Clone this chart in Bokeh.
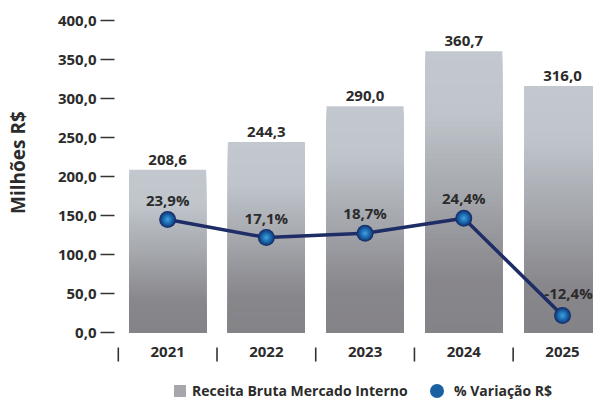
from bokeh.plotting import figure
from bokeh.models import (ColumnDataSource, Range1d, FixedTicker, Legend, LegendItem,
                          CustomJSTickFormatter)
from bokeh.core.properties import value
from bokeh.embed import file_html
from bokeh.resources import INLINE

# ---- data ----
years = ["2021", "2022", "2023", "2024", "2025"]
receita = [208.6, 244.3, 290.0, 360.7, 316.0]
variacao = [23.9, 17.1, 18.7, 24.4, -12.4]
y_ticks = [0, 50, 100, 150, 200, 250, 300, 350, 400]
y_title = "Milhões R$"
legend_labels = ["Receita Bruta Mercado Interno", "% Variação R$"]


def br(v, d=1):
    return f"{v:.{d}f}".replace(".", ",")


FONT = "Open Sans"
TEXT = "#2b2b2b"
idx = list(range(len(years)))

p = figure(width=593, height=401, output_backend="svg", toolbar_location=None,
           x_range=Range1d(-0.5385, 4.314), y_range=Range1d(-88.46, 410.26),
           x_axis_location=None,
           min_border_left=114, min_border_right=0, min_border_top=12,
           min_border_bottom=0)
p.extra_y_ranges = {"pct": Range1d(-44.9, 102.2)}
p.xgrid.visible = False
p.ygrid.visible = False
p.outline_line_color = None
p.background_fill_color = "white"

# ---- gradient bars (stacked slices, each shorter & darker) ----
stops = [(0.0, (0xc2, 0xc8, 0xce)), (0.22, (0xbf, 0xc5, 0xcb)),
         (0.55, (0xa1, 0xa3, 0xa8)), (0.8, (0x88, 0x87, 0x8c)),
         (1.0, (0x84, 0x83, 0x88))]


def grad(t):
    for (t0, c0), (t1, c1) in zip(stops[:-1], stops[1:]):
        if t <= t1:
            f = (t - t0) / (t1 - t0)
            c = [round(a + (b - a) * f) for a, b in zip(c0, c1)]
            return "#%02x%02x%02x" % tuple(c)
    return "#%02x%02x%02x" % stops[-1][1]


N = 60
half = 0.39
L, R, T, B, C = [], [], [], [], []
for i, v in zip(idx, receita):
    for j in range(N):
        L.append(i - half)
        R.append(i + half)
        B.append(0)
        T.append(v * (1 - j / N))
        C.append(grad((j + 0.5) / N))
bars = p.quad(left="l", right="r", top="t", bottom="b", fill_color="c", line_color=None,
              source=ColumnDataSource(dict(l=L, r=R, t=T, b=B, c=C)))

# bar value labels
p.text(x=idx, y=receita, text=[br(v) for v in receita], y_offset=-10,
       text_align="center", text_baseline="middle", text_font=value(FONT),
       text_font_style="bold", text_font_size="15px", text_color=TEXT)

# category axis drawn in the frame: year labels and separators
YEAR_Y = -24.4
SEP_TOP, SEP_BOT = -19.2, -37.2
p.text(x=idx, y=[YEAR_Y] * len(idx), text=years, text_align="center",
       text_baseline="middle", text_font=value(FONT), text_font_style="bold",
       text_font_size="15px", text_color=TEXT)
bounds = [i - 0.5 for i in idx]
p.segment(x0=bounds, y0=[SEP_TOP] * len(bounds), x1=bounds, y1=[SEP_BOT] * len(bounds),
          line_color="#333333", line_width=1.6)

# ---- variation line ----
p.line(idx, variacao, y_range_name="pct", line_color="#1f2d66", line_width=3.5)
rings = [(17, "#172f6b"), (15, "#17407f"), (13, "#185293"), (11, "#1a61a4"),
         (9, "#1e6fb3"), (7, "#247bbe"), (5, "#2f88c9"), (3, "#3f96d3")]
ring_r = []
for s, c in rings:
    ring_r.append(p.scatter(idx, variacao, y_range_name="pct", size=s, marker="circle",
                            fill_color=c, line_color=None))

pct_src = ColumnDataSource(dict(
    x=idx, y=variacao, t=[br(v) + "%" for v in variacao],
    xo=[6 if v < 0 else 0 for v in variacao],
    yo=[-23 if v < 0 else -20 for v in variacao]))
p.text(x="x", y="y", text="t", y_range_name="pct", x_offset="xo", y_offset="yo",
       source=pct_src, text_align="center", text_baseline="middle",
       text_font=value(FONT), text_font_style="bold", text_font_size="15px",
       text_color=TEXT)

# ---- y axis ----
ya = p.yaxis[0]
ya.ticker = FixedTicker(ticks=y_ticks)
ya.formatter = CustomJSTickFormatter(code="return tick.toFixed(1).replace('.', ',');")
ya.axis_line_color = None
ya.major_tick_out = 14
ya.major_tick_in = 0
ya.major_tick_line_color = "#333333"
ya.major_tick_line_width = 1.5
ya.minor_tick_line_color = None
ya.major_label_standoff = 4
ya.major_label_text_font = FONT
ya.major_label_text_font_style = "bold"
ya.major_label_text_font_size = "15px"
ya.major_label_text_color = TEXT
# leading no-break spaces lift the centred title towards the upper part of the axis
ya.axis_label = "\u00a0" * 18 + y_title
ya.axis_label_text_font = FONT
ya.axis_label_text_font_style = "bold"
ya.axis_label_text_font_size = "19px"
ya.axis_label_text_color = TEXT
ya.axis_label_standoff = 24

# ---- legends ----
common = dict(orientation="horizontal", padding=0, margin=0, border_line_color=None,
              background_fill_alpha=0, label_text_font=FONT,
              label_text_font_style="bold", label_text_font_size="14px",
              label_text_color=TEXT)
leg_a = Legend(items=[LegendItem(label=legend_labels[0], renderers=[bars], index=N // 2)],
               location=(58, 1), glyph_width=15, glyph_height=15, label_standoff=5,
               **common)
leg_b = Legend(items=[LegendItem(label=legend_labels[1], renderers=[ring_r[3]], index=0)],
               location=(305, -7), glyph_width=35, glyph_height=35, label_standoff=0,
               **common)
p.add_layout(leg_a, "center")
p.add_layout(leg_b, "center")

open("out.html", "w").write(file_html(p, INLINE))
